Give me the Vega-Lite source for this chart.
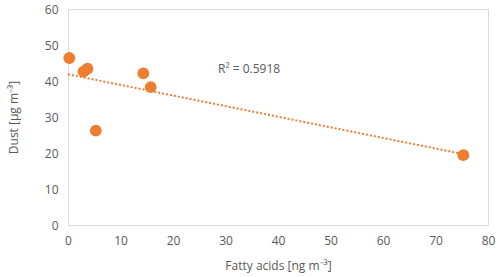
{
  "$schema": "https://vega.github.io/schema/vega-lite/v6.json",
  "width": 420,
  "height": 216,
  "autosize": {"type": "none"},
  "padding": {"left": 68, "top": 9, "right": 12, "bottom": 52},
  "config": {
    "view": {"stroke": "#D9D9D9", "strokeWidth": 1},
    "font": "Open Sans",
    "axis": {
      "grid": false,
      "domain": false,
      "ticks": false,
      "labelOverlap": false,
      "labelFlush": false,
      "labelColor": "#595959",
      "titleColor": "#595959",
      "labelFontSize": 12,
      "titleFontSize": 12,
      "titleFontWeight": "normal",
      "labelFont": "Open Sans",
      "titleFont": "Open Sans"
    }
  },
  "datasets": {
    "pts": [
      {"fa": 0.25, "dust": 46.4},
      {"fa": 2.96, "dust": 42.6},
      {"fa": 3.7, "dust": 43.4},
      {"fa": 5.3, "dust": 26.2},
      {"fa": 14.35, "dust": 42.1},
      {"fa": 15.75, "dust": 38.3},
      {"fa": 75.3, "dust": 19.4}
    ],
    "lbl": [{"fa": 34.5, "dust": 43.2, "t": "R² = 0.5918"}]
  },
  "encoding": {
    "x": {
      "field": "fa", "type": "quantitative",
      "scale": {"domain": [0, 80], "nice": false},
      "axis": {"values": [0, 10, 20, 30, 40, 50, 60, 70, 80], "labelOverlap": false, "labelPadding": 10, "title": "Fatty acids [ng m⁻³]", "titlePadding": 14}
    },
    "y": {
      "field": "dust", "type": "quantitative",
      "scale": {"domain": [0, 60], "nice": false},
      "axis": {"values": [0, 10, 20, 30, 40, 50, 60], "labelOverlap": false, "labelPadding": 10, "title": "Dust [µg m⁻³]", "titlePadding": 24}
    }
  },
  "layer": [
    {
      "data": {"name": "pts"},
      "transform": [{"regression": "dust", "on": "fa", "extent": [0, 75.3]}],
      "mark": {"type": "line", "color": "#ED7D31", "strokeWidth": 2, "strokeDash": [2, 2]}
    },
    {
      "data": {"name": "pts"},
      "mark": {"type": "circle", "color": "#ED7D31", "opacity": 1, "size": 140}
    },
    {
      "data": {"name": "lbl"},
      "mark": {"type": "text", "color": "#595959", "fontSize": 12, "font": "Open Sans"},
      "encoding": {
        "text": {"field": "t"}
      }
    }
  ]
}
